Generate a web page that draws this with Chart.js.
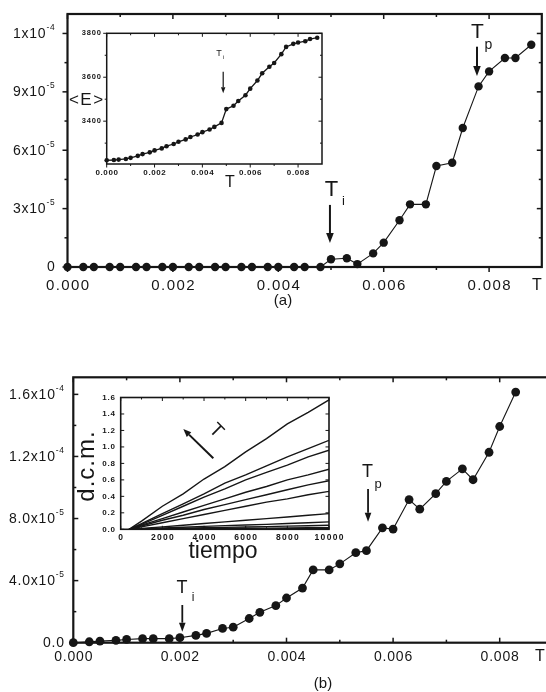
<!DOCTYPE html>
<html>
<head>
<meta charset="utf-8">
<script src="https://cdn.jsdelivr.net/npm/chart.js@4.4.1/dist/chart.umd.min.js"></script>
<style>
html, body { margin: 0; padding: 0; background: #fff; width: 546px; height: 692px; overflow: hidden; }
canvas { position: absolute; left: 0; top: 0; }
</style>
</head>
<body>
<canvas id="chartA" width="546" height="692"></canvas>
<canvas id="insetA" width="546" height="692"></canvas>
<canvas id="chartB" width="560" height="692"></canvas>
<canvas id="insetB" width="546" height="692"></canvas>
<script>
// ---- data ----
// panel (a): main curve
const aT = [0, 0.0003, 0.0005, 0.0008, 0.001, 0.0013, 0.0015, 0.0018, 0.002, 0.0023, 0.0025, 0.0028,
            0.003, 0.0033, 0.0035, 0.0038, 0.004, 0.0043, 0.0045, 0.0048, 0.005, 0.0053, 0.0055, 0.0058,
            0.006, 0.0063, 0.0065, 0.0068, 0.007, 0.0073, 0.0075, 0.0078, 0.008, 0.0083, 0.0085, 0.0088];
const aVal = [0, 0, 0, 0, 0, 0, 0, 0, 0, 0, 0, 0, 0, 0, 0, 0, 0, 0, 0, 0,
              4.0e-6, 4.5e-6, 1.5e-6, 7.0e-6, 1.25e-5, 2.4e-5, 3.22e-5, 3.22e-5, 5.19e-5, 5.36e-5,
              7.14e-5, 9.28e-5, 1.005e-4, 1.074e-4, 1.074e-4, 1.142e-4];
// panel (a) inset: <E> vs T
const aE = [3222, 3223, 3225, 3228, 3233, 3242, 3250, 3258, 3267, 3276, 3286, 3296,
            3306, 3317, 3328, 3339, 3350, 3362, 3374, 3392, 3455, 3470, 3492, 3518,
            3548, 3585, 3618, 3648, 3665, 3705, 3738, 3752, 3758, 3764, 3774, 3780];

// panel (b): main curve
const bT = [0, 0.0003, 0.0005, 0.0008, 0.001, 0.0013, 0.0015, 0.0018, 0.002, 0.0023, 0.0025, 0.0028,
            0.003, 0.0033, 0.0035, 0.0038, 0.004, 0.0043, 0.0045, 0.0048, 0.005, 0.0053, 0.0055, 0.0058,
            0.006, 0.0063, 0.0065, 0.0068, 0.007, 0.0073, 0.0075, 0.0078, 0.008, 0.0083];
const bVal = [0, 6e-7, 1.0e-6, 1.5e-6, 2.1e-6, 2.6e-6, 2.6e-6, 2.6e-6, 3.2e-6, 4.7e-6, 6.0e-6, 9.2e-6,
              1.0e-5, 1.56e-5, 1.96e-5, 2.39e-5, 2.88e-5, 3.52e-5, 4.69e-5, 4.69e-5, 5.08e-5, 5.8e-5,
              5.93e-5, 7.4e-5, 7.32e-5, 9.22e-5, 8.6e-5, 9.6e-5, 1.039e-4, 1.12e-4, 1.05e-4, 1.227e-4,
              1.393e-4, 1.615e-4];
// panel (b) inset: d.c.m. vs tiempo, one list per temperature
const tiempo = [400, 1000, 2000, 3000, 4000, 5000, 6000, 7000, 8000, 9000, 10000];
const dcm1  = [0, 0.10, 0.28, 0.43, 0.61, 0.76, 0.94, 1.10, 1.28, 1.42, 1.57];
const dcm2  = [0, 0.07, 0.19, 0.31, 0.43, 0.56, 0.66, 0.77, 0.88, 0.98, 1.08];
const dcm3  = [0, 0.06, 0.17, 0.28, 0.39, 0.49, 0.60, 0.69, 0.78, 0.88, 0.96];
const dcm4  = [0, 0.05, 0.13, 0.21, 0.29, 0.37, 0.45, 0.52, 0.60, 0.66, 0.73];
const dcm5  = [0, 0.04, 0.11, 0.17, 0.24, 0.30, 0.36, 0.42, 0.48, 0.54, 0.59];
const dcm6  = [0, 0.03, 0.08, 0.13, 0.18, 0.23, 0.28, 0.33, 0.37, 0.42, 0.46];
const dcm7  = [0, 0.01, 0.03, 0.05, 0.07, 0.09, 0.11, 0.13, 0.15, 0.17, 0.19];
const dcm8  = [0, 0.005, 0.015, 0.025, 0.035, 0.045, 0.052, 0.06, 0.07, 0.08, 0.09];
const dcm9  = [0, 0.003, 0.008, 0.013, 0.018, 0.023, 0.028, 0.033, 0.038, 0.044, 0.05];
const dcm10 = [0, 0.002, 0.004, 0.006, 0.008, 0.010, 0.012, 0.014, 0.016, 0.018, 0.02];
const dcm11 = [0, 0.001, 0.002, 0.002, 0.003, 0.004, 0.005, 0.005, 0.006, 0.007, 0.008];

// ---- ticks ----
const tTicks = [0, 0.002, 0.004, 0.006, 0.008];
const tTickLabels = ['0.000', '0.002', '0.004', '0.006', '0.008'];
const tMinor = [0.001, 0.003, 0.005, 0.007];
const aYTicks = [0, 3e-5, 6e-5, 9e-5, 1.2e-4];
const aYTickLabels = ['0', '3x10^-5', '6x10^-5', '9x10^-5', '1x10^-4'];
const aYMinor = [1.5e-5, 4.5e-5, 7.5e-5, 1.05e-4];
const eTicks = [3400, 3600, 3800];
const eTickLabels = ['3400', '3600', '3800'];
const eMinor = [3300, 3500, 3700];
const bYTicks = [0, 4e-5, 8e-5, 1.2e-4, 1.6e-4];
const bYTickLabels = ['0.0', '4.0x10^-5', '8.0x10^-5', '1.2x10^-4', '1.6x10^-4'];
const bYMinor = [2e-5, 6e-5, 1e-4, 1.4e-4];
const tiempoTicks = [0, 2000, 4000, 6000, 8000, 10000];
const tiempoTickLabels = ['0', '2000', '4000', '6000', '8000', '10000'];
const tiempoMinor = [1000, 3000, 5000, 7000, 9000];
const dcmTicks = [0, 0.2, 0.4, 0.6, 0.8, 1.0, 1.2, 1.4, 1.6];
const dcmTickLabels = ['0.0', '0.2', '0.4', '0.6', '0.8', '1.0', '1.2', '1.4', '1.6'];

const INK = '#161616';
const FONT = '"Liberation Sans", Arial, Helvetica, sans-serif';
function fnt(size, weight) { return (weight || 'normal') + ' ' + size + 'px ' + FONT; }

// label like '3x10^-5' drawn with a raised exponent, right edge at xr
function supLabel(ctx, s, xr, y, size, ls) {
    const parts = s.split('^');
    ctx.textAlign = 'left';
    ctx.textBaseline = 'middle';
    ctx.letterSpacing = ls + 'px';
    let ew = 0;
    if (parts[1]) {
        ctx.font = fnt(size * 0.6);
        ew = ctx.measureText(parts[1]).width;
    }
    ctx.font = fnt(size);
    const mw = ctx.measureText(parts[0]).width;
    ctx.fillText(parts[0], xr - ew - mw, y);
    if (parts[1]) {
        ctx.font = fnt(size * 0.6);
        ctx.fillText(parts[1], xr - ew, y - size * 0.45);
    }
}

function arrow(ctx, x1, y1, x2, y2, lw, hl, hw) {
    const ang = Math.atan2(y2 - y1, x2 - x1);
    const bx = x2 - hl * Math.cos(ang), by = y2 - hl * Math.sin(ang);
    ctx.lineWidth = lw;
    ctx.beginPath(); ctx.moveTo(x1, y1); ctx.lineTo(bx, by); ctx.stroke();
    ctx.beginPath();
    ctx.moveTo(x2, y2);
    ctx.lineTo(bx + hw * Math.sin(ang), by - hw * Math.cos(ang));
    ctx.lineTo(bx - hw * Math.sin(ang), by + hw * Math.cos(ang));
    ctx.closePath(); ctx.fill();
}

// per-canvas look: frame, ticks, labels, notes
const looks = {
    chartA: {
        lw: 2.2, tw: 1.5, major: 5, minor: 3, out: 1,
        xTicks: tTicks, xLabels: tTickLabels, xMinor: tMinor, xSize: 15, xLs: 1.4, xOff: 19,
        yTicks: aYTicks, yLabels: aYTickLabels, yMinor: aYMinor, ySize: 14, yLs: 0.8, yOff: 12,
        notes: [
            { t: 'T', x: 0.00501, y: 3.96e-5, size: 22 },
            { t: 'i', x: 0.005235, y: 3.39e-5, size: 13 },
            { t: 'T', x: 0.007777, y: 1.205e-4, size: 21 },
            { t: 'p', x: 0.007985, y: 1.141e-4, size: 14 }
        ],
        arrows: [
            { x1: 0.00498, y1: 3.19e-5, x2: 0.00498, y2: 1.23e-5 },
            { x1: 0.00777, y1: 1.132e-4, x2: 0.00777, y2: 9.81e-5 }
        ],
        aw: 2, hl: 10, hw: 3.8,
        fixed: [
            { t: 'T', px: 537, py: 286, size: 16 },
            { t: '(a)', px: 283, py: 301, size: 15 }
        ]
    },
    insetA: {
        fill: true, lw: 1.5, tw: 1, major: 3.5, minor: 2, out: 1,
        xTicks: tTicks, xLabels: tTickLabels, xMinor: tMinor, xSize: 8, xLs: 0.6, xOff: 8.5, bold: true,
        yTicks: eTicks, yLabels: eTickLabels, yMinor: eMinor, ySize: 7.5, yLs: 0.8, yOff: 5,
        notes: [
            { t: 'T', x: 0.00469, y: 3710, size: 9 },
            { t: 'i', x: 0.00488, y: 3692, size: 6 }
        ],
        arrows: [ { x1: 0.00487, y1: 3625, x2: 0.00487, y2: 3527 } ],
        aw: 1.2, hl: 6, hw: 2.2,
        fixed: [
            { t: '<E>', px: 86, py: 100.5, size: 17, ls: 1.5 },
            { t: 'T', px: 230, py: 182.5, size: 16 }
        ]
    },
    chartB: {
        lw: 2.2, tw: 1.5, major: 5, minor: 3, out: -1,
        xTicks: tTicks, xLabels: tTickLabels, xMinor: tMinor, xSize: 14, xLs: 0.8, xOff: 14,
        yTicks: bYTicks, yLabels: bYTickLabels, yMinor: bYMinor, ySize: 14, yLs: 0.8, yOff: 8.5,
        notes: [
            { t: 'T', x: 0.00204, y: 3.52e-5, size: 18 },
            { t: 'i', x: 0.002246, y: 2.88e-5, size: 12 },
            { t: 'T', x: 0.00552, y: 1.102e-4, size: 18 },
            { t: 'p', x: 0.00572, y: 1.023e-4, size: 13 }
        ],
        arrows: [
            { x1: 0.002045, y1: 2.43e-5, x2: 0.002045, y2: 7.1e-6 },
            { x1: 0.00553, y1: 9.9e-5, x2: 0.00553, y2: 7.8e-5 }
        ],
        aw: 1.8, hl: 9, hw: 3.3,
        fixed: [
            { t: 'T', px: 540, py: 657, size: 16 },
            { t: '(b)', px: 323, py: 684, size: 15 }
        ]
    },
    insetB: {
        fill: true, lw: 1.6, tw: 1, major: 3.5, minor: 2, out: -1,
        xTicks: tiempoTicks, xLabels: tiempoTickLabels, xMinor: tiempoMinor, xSize: 8.5, xLs: 1.3, xOff: 8.5, bold: true,
        yTicks: dcmTicks, yLabels: dcmTickLabels, yMinor: [], ySize: 8, yLs: 0.8, yOff: 5,
        notes: [ { t: 'T', x: 4575, y: 1.195, size: 19, rot: 45 } ],
        arrows: [ { x1: 4446, y1: 0.862, x2: 3005, y2: 1.217 } ],
        aw: 2, hl: 8, hw: 3.2,
        fixed: [
            { t: 'd.c.m.', px: 93.5, py: 466.5, size: 24, rot: -90, ls: 1, base: 'alphabetic' },
            { t: 'tiempo', px: 223, py: 558, size: 23, base: 'alphabetic' }
        ]
    }
};

const framePlugin = {
    id: 'framePlugin',
    beforeDraw(chart) {
        const c = looks[chart.canvas.id];
        if (!c || !c.fill) return;
        const a = chart.chartArea, ctx = chart.ctx;
        ctx.save();
        ctx.fillStyle = '#fff';
        ctx.fillRect(a.left, a.top, a.right - a.left, a.bottom - a.top);
        ctx.restore();
    },
    afterDraw(chart) {
        const c = looks[chart.canvas.id];
        if (!c) return;
        const ctx = chart.ctx, a = chart.chartArea;
        const xs = chart.scales.x, ys = chart.scales.y;
        ctx.save();
        ctx.strokeStyle = INK;
        ctx.fillStyle = INK;
        ctx.lineWidth = c.lw;
        ctx.strokeRect(a.left, a.top, a.right - a.left, a.bottom - a.top);

        ctx.lineWidth = c.tw;
        const seg = (x1, y1, x2, y2) => { ctx.beginPath(); ctx.moveTo(x1, y1); ctx.lineTo(x2, y2); ctx.stroke(); };
        const xt = (vals, len) => vals.forEach(v => {
            const p = xs.getPixelForValue(v);
            seg(p, a.bottom, p, a.bottom + c.out * len);
            seg(p, a.top, p, a.top + len);
        });
        const yt = (vals, len) => vals.forEach(v => {
            const p = ys.getPixelForValue(v);
            seg(a.left, p, a.left - c.out * len, p);
            seg(a.right, p, a.right - len, p);
        });
        xt(c.xTicks, c.major); xt(c.xMinor, c.minor);
        yt(c.yTicks, c.major); yt(c.yMinor, c.minor);

        // tick labels
        ctx.textAlign = 'center';
        ctx.textBaseline = 'middle';
        ctx.font = fnt(c.xSize, c.bold ? 'bold' : 'normal');
        ctx.letterSpacing = c.xLs + 'px';
        c.xTicks.forEach((v, i) => {
            ctx.fillText(c.xLabels[i], xs.getPixelForValue(v) + c.xLs / 2, a.bottom + c.xOff);
        });
        c.yTicks.forEach((v, i) => {
            if (c.bold) {
                ctx.font = fnt(c.ySize, 'bold');
                ctx.letterSpacing = c.yLs + 'px';
                ctx.textAlign = 'right';
                ctx.fillText(c.yLabels[i], a.left - c.yOff, ys.getPixelForValue(v));
            } else {
                supLabel(ctx, c.yLabels[i], a.left - c.yOff, ys.getPixelForValue(v) + 0.5, c.ySize, c.yLs);
            }
        });
        ctx.letterSpacing = '0px';

        // arrows and labels placed in data coordinates
        c.arrows.forEach(r => arrow(ctx, xs.getPixelForValue(r.x1), ys.getPixelForValue(r.y1),
            xs.getPixelForValue(r.x2), ys.getPixelForValue(r.y2), c.aw, c.hl, c.hw));
        const put = (t, px, py, size, rot, ls, base) => {
            ctx.save();
            ctx.translate(px, py);
            if (rot) ctx.rotate(rot * Math.PI / 180);
            ctx.font = fnt(size);
            ctx.letterSpacing = (ls || 0) + 'px';
            ctx.textAlign = 'center';
            ctx.textBaseline = base || 'middle';
            ctx.fillText(t, (ls || 0) / 2, 0);
            ctx.restore();
        };
        c.notes.forEach(n => put(n.t, xs.getPixelForValue(n.x), ys.getPixelForValue(n.y), n.size, n.rot));
        c.fixed.forEach(n => put(n.t, n.px, n.py, n.size, n.rot, n.ls, n.base));
        ctx.restore();
    }
};
Chart.register(framePlugin);

function baseOptions(pad, xr, yr) {
    return {
        responsive: false,
        animation: false,
        devicePixelRatio: 1,
        events: [],
        layout: { padding: pad },
        plugins: { legend: { display: false }, tooltip: { enabled: false } },
        scales: {
            x: { type: 'linear', display: false, min: xr[0], max: xr[1] },
            y: { type: 'linear', display: false, min: yr[0], max: yr[1] }
        }
    };
}

function dotted(xv, yv, r, lw) {
    return {
        data: xv.map((x, i) => ({ x: x, y: yv[i] })),
        showLine: true,
        borderColor: INK,
        borderWidth: lw,
        pointRadius: r,
        pointBackgroundColor: INK,
        pointBorderWidth: 0,
        clip: false
    };
}

new Chart(document.getElementById('chartA'), {
    type: 'scatter',
    data: { datasets: [dotted(aT, aVal, 4.2, 1.1)] },
    options: baseOptions({ left: 67.5, top: 14, right: 4, bottom: 425 }, [0, 0.009], [0, 1.3e-4])
});

new Chart(document.getElementById('insetA'), {
    type: 'scatter',
    data: { datasets: [dotted(aT, aE, 2.3, 1.3)] },
    options: baseOptions({ left: 106.7, top: 33.3, right: 224, bottom: 528 }, [0, 0.009], [3205, 3800])
});

new Chart(document.getElementById('chartB'), {
    type: 'scatter',
    data: { datasets: [dotted(bT, bVal, 4.4, 1.1)] },
    options: baseOptions({ left: 73.3, top: 377.3, right: 7, bottom: 49.3 }, [0, 0.009], [0, 1.71e-4])
});

const dcmCurves = [dcm1, dcm2, dcm3, dcm4, dcm5, dcm6, dcm7, dcm8, dcm9, dcm10, dcm11];
new Chart(document.getElementById('insetB'), {
    type: 'scatter',
    data: {
        datasets: dcmCurves.map(c => ({
            data: tiempo.map((t, i) => ({ x: t, y: c[i] })),
            showLine: true,
            borderColor: INK,
            borderWidth: 1.4,
            pointRadius: 0
        }))
    },
    options: baseOptions({ left: 120.7, top: 397.5, right: 217, bottom: 162.7 }, [0, 10000], [0, 1.6])
});
</script>
</body>
</html>
